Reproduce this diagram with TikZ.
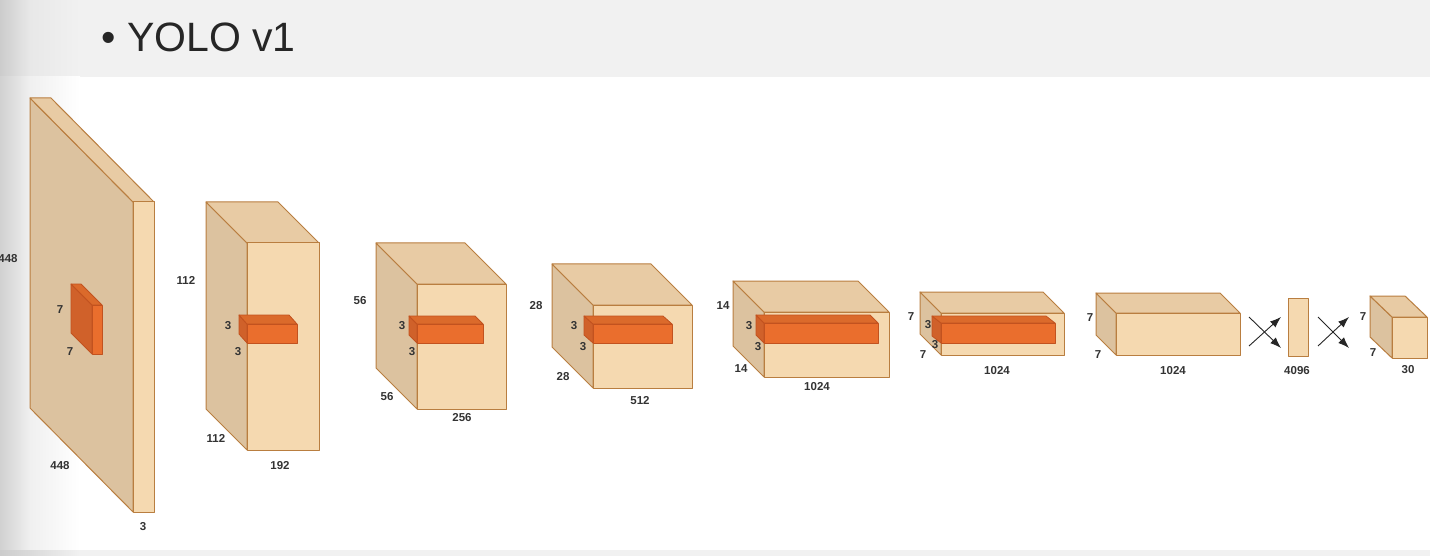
\documentclass[tikz,border=0pt]{standalone}
\usepackage{fontspec}
\setmainfont{Liberation Sans}
\usetikzlibrary{arrows.meta}

\definecolor{bandgray}{HTML}{F1F1F1}
\definecolor{titlegray}{HTML}{262626}
\definecolor{boxfront}{HTML}{F5D9B0}
\definecolor{boxtop}{HTML}{E8CBA4}
\definecolor{boxside}{HTML}{DCC29F}
\definecolor{boxedge}{HTML}{B97E40}
\definecolor{kernfront}{HTML}{EA6E2D}
\definecolor{kerntop}{HTML}{DB6A2B}
\definecolor{kernside}{HTML}{D0612A}
\definecolor{kernedge}{HTML}{C2521F}

% front face at (#2,#3), size #4 x #5, depth offset (#6,#7)
\newcommand{\blockbox}[7]{%
  \filldraw[#1side] (#2,#3) -- ({#2+(#6)},{#3+(#7)}) -- ({#2+(#6)},{#3+#5+(#7)}) -- (#2,{#3+#5}) -- cycle;
  \filldraw[#1top] (#2,#3) -- ({#2+(#6)},{#3+(#7)}) -- ({#2+#4+(#6)},{#3+(#7)}) -- ({#2+#4},#3) -- cycle;
  \filldraw[#1front] (#2,#3) rectangle ++(#4,#5);
}

\begin{document}
\begin{tikzpicture}[x=1pt, y=-1pt, line join=round,
    blockfront/.style={fill=boxfront, draw=boxedge, line width=1pt},
    blocktop/.style={fill=boxtop, draw=boxedge, line width=1pt},
    blockside/.style={fill=boxside, draw=boxedge, line width=1pt},
    kernfront/.style={fill=kernfront, draw=kernedge, line width=0.8pt},
    kerntop/.style={fill=kerntop, draw=kernedge, line width=0.8pt},
    kernside/.style={fill=kernside, draw=kernedge, line width=0.8pt},
    dimlabel/.style={font=\fontsize{11.5}{12}\selectfont\bfseries, text=black!80, inner sep=0pt},
    fcarrow/.style={-{Latex[length=11pt, width=8pt]}, line width=0.9pt, black!85}]
	\useasboundingbox (0,0) rectangle (1430,556);
	% slide background
	\fill[bandgray] (0,0) rectangle (1430,77);
	\fill[white] (0,77) rectangle (1430,550);
	\fill[bandgray] (0,550) rectangle (1430,556);
	\shade[left color=black!20, right color=black!9] (0,0) rectangle (30,77);
	\shade[left color=black!9, right color=bandgray] (30,0) rectangle (80,77);
	\shade[left color=black!18, right color=black!6] (0,77) rectangle (30,550);
	\shade[left color=black!6, right color=white] (30,77) rectangle (80,550);
	\shade[left color=black!20, right color=bandgray] (0,550) rectangle (80,556);
	\node[font=\fontsize{41}{41}\selectfont, text=titlegray, inner sep=0pt, anchor=base west] (bullet) at (101,52) {•};
	\node[font=\fontsize{41}{41}\selectfont, text=titlegray, inner sep=0pt, anchor=base west] (title) at (127,52) {YOLO v1};

	% input 448x448x3
	\blockbox{block}{133}{202}{21}{310}{-103}{-104}
	\blockbox{kern}{92}{305}{10}{49}{-21}{-21}
	\node[dimlabel] (b1h) at (8,259) {448};
	\node[dimlabel] (k1h) at (60,310) {7};
	\node[dimlabel] (k1d) at (70,352) {7};
	\node[dimlabel] (b1d) at (60,466) {448};
	\node[dimlabel] (b1w) at (143,527) {3};

	% 112x112x192
	\blockbox{block}{247}{243}{72}{207}{-41}{-41}
	\blockbox{kern}{247}{324}{50}{19}{-8}{-9}
	\node[dimlabel] (b2h) at (186,280) {112};
	\node[dimlabel] (k2h) at (228,326) {3};
	\node[dimlabel] (k2d) at (238,352) {3};
	\node[dimlabel] (b2d) at (216,438) {112};
	\node[dimlabel] (b2w) at (280,466) {192};

	% 56x56x256
	\blockbox{block}{417}{284}{89}{125}{-41}{-41}
	\blockbox{kern}{417}{324}{66}{19}{-8}{-8}
	\node[dimlabel] (b3h) at (360,301) {56};
	\node[dimlabel] (k3h) at (402,326) {3};
	\node[dimlabel] (k3d) at (412,352) {3};
	\node[dimlabel] (b3d) at (387,397) {56};
	\node[dimlabel] (b3w) at (462,418) {256};

	% 28x28x512
	\blockbox{block}{593}{305}{99}{83}{-41}{-41}
	\blockbox{kern}{593}{324}{79}{19}{-9}{-8}
	\node[dimlabel] (b4h) at (536,306) {28};
	\node[dimlabel] (k4h) at (574,326) {3};
	\node[dimlabel] (k4d) at (583,347) {3};
	\node[dimlabel] (b4d) at (563,377) {28};
	\node[dimlabel] (b4w) at (640,401) {512};

	% 14x14x1024
	\blockbox{block}{764}{312}{125}{65}{-31}{-31}
	\blockbox{kern}{764}{323}{114}{20}{-8}{-8}
	\node[dimlabel] (b5h) at (723,306) {14};
	\node[dimlabel] (k5h) at (749,326) {3};
	\node[dimlabel] (k5d) at (758,347) {3};
	\node[dimlabel] (b5d) at (741,369) {14};
	\node[dimlabel] (b5w) at (817,387) {1024};

	% 7x7x1024
	\blockbox{block}{941}{313}{123}{42}{-21}{-21}
	\blockbox{kern}{941}{323}{114}{20}{-9}{-7}
	\node[dimlabel] (b6h) at (911,317) {7};
	\node[dimlabel] (k6h) at (928,325) {3};
	\node[dimlabel] (k6d) at (935,345) {3};
	\node[dimlabel] (b6d) at (923,355) {7};
	\node[dimlabel] (b6w) at (997,371) {1024};

	% 7x7x1024
	\blockbox{block}{1116}{313}{124}{42}{-20}{-20}
	\node[dimlabel] (b7h) at (1090,318) {7};
	\node[dimlabel] (b7d) at (1098,355) {7};
	\node[dimlabel] (b7w) at (1173,371) {1024};

	% fully connected 4096
	\filldraw[blockfront] (1288,298) rectangle (1308,356);
	\node[dimlabel] (b8w) at (1297,371) {4096};

	% output 7x7x30
	\blockbox{block}{1392}{317}{35}{41}{-22}{-21}
	\node[dimlabel] (b9h) at (1363,317) {7};
	\node[dimlabel] (b9d) at (1373,353) {7};
	\node[dimlabel] (b9w) at (1408,370) {30};

	% full connections
	\coordinate (fa1) at (1249,346);
	\coordinate (fa2) at (1281,317);
	\coordinate (fa3) at (1249,317);
	\coordinate (fa4) at (1281,348);
	\coordinate (fb1) at (1318,346);
	\coordinate (fb2) at (1349,317);
	\coordinate (fb3) at (1318,317);
	\coordinate (fb4) at (1349,348);
	\draw[fcarrow] (fa1) -- (fa2);
	\draw[fcarrow] (fa3) -- (fa4);
	\draw[fcarrow] (fb1) -- (fb2);
	\draw[fcarrow] (fb3) -- (fb4);
\end{tikzpicture}
\end{document}
